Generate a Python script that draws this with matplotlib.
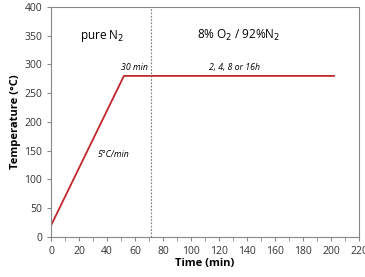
import matplotlib
matplotlib.use("Agg")
import matplotlib.pyplot as plt
from matplotlib.ticker import MultipleLocator

plt.rcParams['font.family'] = ['Open Sans', 'DejaVu Sans']

time = [0, 52, 202]
temp = [20, 280, 280]
switch_time = 71

fig = plt.figure(figsize=(3.65, 2.77), dpi=100)
ax = fig.add_axes([0.14, 0.145, 0.844, 0.83])

ax.plot(time, temp, color='#c0282d', lw=1.3)
ax.axvline(switch_time, color='#777777', lw=0.8, ls=(0, (1.5, 1.5)))

ax.set_xlim(0, 220)
ax.set_ylim(0, 400)
ax.xaxis.set_major_locator(MultipleLocator(20))
ax.xaxis.set_minor_locator(MultipleLocator(10))
ax.yaxis.set_major_locator(MultipleLocator(50))
ax.tick_params(axis='both', which='both', direction='out', labelsize=7.5,
               color='#888888', labelcolor='#333333', length=3)
for s in ax.spines.values():
    s.set_color('#888888')

ax.set_xlabel("Time (min)", fontsize=8, fontweight='bold', labelpad=1)
ax.set_ylabel("Temperature (°C)", fontsize=8, fontweight='bold', labelpad=2)

ax.text(20.5, 350, "pure N$_2$", fontsize=8.5, va='center')
ax.text(104, 350, "8% O$_2$ / 92%N$_2$", fontsize=8.5, va='center')
ax.text(50, 295, "30 min", fontsize=6.3, style='italic', va='center')
ax.text(113, 295, "2, 4, 8 or 16h", fontsize=6.3, style='italic', va='center')
ax.text(33, 144, "5°C/min", fontsize=6.3, style='italic', va='center')

fig.savefig("out.png", dpi=100)
